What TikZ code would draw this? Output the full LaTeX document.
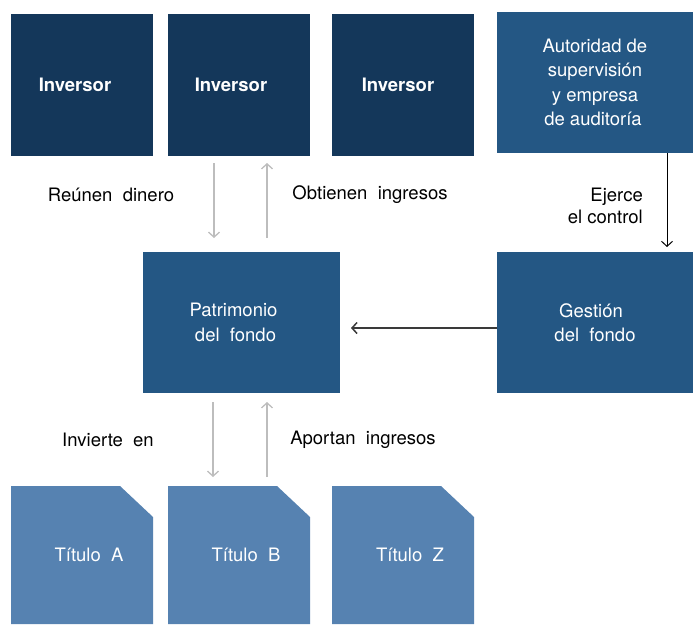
\documentclass[tikz,border=0pt]{standalone}
\usepackage{fontspec}
\setmainfont{TeX Gyre Heros}
\usetikzlibrary{arrows.meta}
\definecolor{navy}{HTML}{14375A}
\definecolor{midblue}{HTML}{245784}
\definecolor{lightblue}{HTML}{5682B1}
\definecolor{arrgray}{HTML}{BDBDBD}
\definecolor{darkline}{HTML}{3A3A3A}
\tikzset{
  invbox/.style={fill=navy, text=white, minimum width=142pt, minimum height=142pt,
    inner sep=0pt, outer sep=0pt, anchor=north west, font=\fontsize{18.5}{20}\selectfont\bfseries},
  midbox/.style={fill=midblue, text=white, minimum width=196pt, minimum height=141pt,
    inner sep=0pt, outer sep=0pt, anchor=north west, align=center,
    font=\fontsize{18.5}{24.5}\selectfont},
  titbox/.style={text=white, minimum width=142pt, minimum height=138pt,
    inner sep=0pt, outer sep=0pt, anchor=north west, font=\fontsize{18.5}{21}\selectfont,
    path picture={\fill[lightblue] (path picture bounding box.south west)
      -- (path picture bounding box.north west)
      -- ([xshift=-33pt]path picture bounding box.north east)
      -- ([yshift=-31pt]path picture bounding box.north east)
      -- (path picture bounding box.south east) -- cycle;}},
  lbl/.style={text=black, inner sep=0pt, font=\fontsize{18.5}{22}\selectfont},
  garrow/.style={draw=arrgray, line width=1.3pt, -{Straight Barb[length=5pt,width=11pt]}},
  barrow/.style={draw=black, line width=1pt, -{Straight Barb[length=5pt,width=11pt]}},
  harrow/.style={draw=darkline, line width=1.5pt, -{Straight Barb[length=5pt,width=11pt]}}
}
\begin{document}
\begin{tikzpicture}[x=1pt,y=-1pt]
\useasboundingbox (0,0) rectangle (693,624);
% top row
\node[invbox] (inv1) at (11,14) {Inversor\hspace*{14pt}};
\node[invbox] (inv2) at (168,14) {Inversor\hspace*{16pt}};
\node[invbox] (inv3) at (332,14) {Inversor\hspace*{10pt}};
\node[midbox] (aut) at (497,12) {Autoridad de\\supervisión\\y empresa\\de auditoría\hspace*{4pt}};
% middle row
\node[midbox, minimum width=197pt] (pat) at (143,252) {Patrimonio\hspace*{16pt}\\del\ \ fondo\hspace*{12pt}};
\node[midbox] (ges) at (497,252) {Gestión\hspace*{8pt}\\del\ \ fondo};
% bottom row
\node[titbox] (tA) at (11,486) {\hspace*{14pt}Título\ \ A};
\node[titbox] (tB) at (168,486) {\hspace*{14pt}Título\ \ B};
\node[titbox] (tZ) at (332,486) {\hspace*{14pt}Título\ \ Z};
% labels
\node[lbl] (l1) at (111,195) {Reúnen\ \ dinero};
\node[lbl] (l2) at (370,195) {Obtienen\ \ ingresos};
\node[lbl, align=right, anchor=east] (l3) at (643,206) {Ejerce\\el control};
\node[lbl] (l4) at (108,440) {Invierte\ \ en};
\node[lbl] (l5) at (363,440) {Aportan\ \ ingresos};
% connectors
\draw[garrow, shorten <=7pt, shorten >=14pt] ([xshift=-25pt]inv2.south) -- ([xshift=-25pt]inv2.south |- pat.north);
\draw[garrow, shorten <=14pt, shorten >=7pt] ([xshift=28pt]inv2.south |- pat.north) -- ([xshift=28pt]inv2.south);
\draw[garrow, shorten <=9pt, shorten >=9pt] ([xshift=-26pt]tB.north |- pat.south) -- ([xshift=-26pt]tB.north);
\draw[garrow, shorten <=9pt, shorten >=9pt] ([xshift=28pt]tB.north) -- ([xshift=28pt]tB.north |- pat.south);
\draw[barrow, shorten >=5pt] ([xshift=72pt]aut.south) -- ([xshift=72pt]aut.south |- ges.north);
\draw[harrow, shorten >=11pt] ([yshift=-5.5pt]ges.west) -- ([yshift=-5.5pt]ges.west -| pat.east);
\end{tikzpicture}
\end{document}
